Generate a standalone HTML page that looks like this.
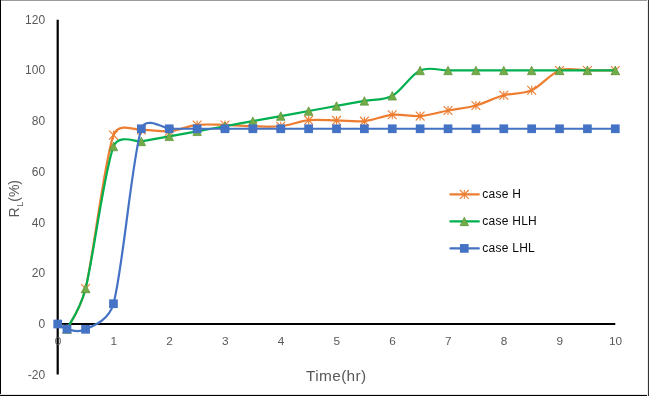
<!DOCTYPE html>
<html><head><meta charset="utf-8"><title>chart</title>
<style>
html,body{margin:0;padding:0;background:#fff;}
body{width:649px;height:396px;overflow:hidden;position:relative;font-family:"Liberation Sans",sans-serif;}
svg text{font-family:"Liberation Sans",sans-serif;}
.b{position:absolute;}
</style></head><body>
<div class="b" style="left:0;top:0;width:649px;height:1px;background:#9b9b9b"></div>
<div class="b" style="left:0;top:0;width:1px;height:396px;background:#000"></div>
<div class="b" style="left:0;top:394px;width:649px;height:1px;background:#e4e4e4"></div>
<div class="b" style="left:0;top:395px;width:649px;height:1px;background:#000"></div>
<div class="b" style="left:647px;top:0;width:1px;height:396px;background:#ececec"></div>
<div class="b" style="left:648px;top:0;width:1px;height:396px;background:#333"></div>
<svg width="649" height="396" viewBox="0 0 649 396" style="position:absolute;left:0;top:0">
<line x1="57.70" y1="19.8" x2="57.70" y2="374.6" stroke="#000" stroke-width="2.2"/>
<line x1="56.60" y1="324.00" x2="615.30" y2="324.00" stroke="#000" stroke-width="2.2"/>
<path d="M66.99,329.07 C69.07,324.53 80.38,310.20 85.58,288.50 C93.32,256.18 104.17,161.52 113.46,135.11 C118.16,121.74 136.64,130.36 141.34,130.03 C150.63,129.40 159.93,132.15 169.22,131.30 C178.51,130.46 187.81,126.02 197.10,124.96 C206.39,123.91 215.69,124.75 224.98,124.96 C234.27,125.17 243.57,126.02 252.86,126.23 C262.15,126.44 271.45,127.25 280.74,126.23 C290.03,125.22 299.33,121.12 308.62,120.15 C317.91,119.17 327.21,120.23 336.50,120.40 C345.79,120.57 355.09,122.09 364.38,121.16 C373.67,120.23 382.97,115.67 392.26,114.82 C401.55,113.98 410.85,116.81 420.14,116.09 C429.43,115.37 438.73,112.29 448.02,110.51 C457.31,108.74 466.61,107.98 475.90,105.44 C485.19,102.90 494.49,97.83 503.78,95.30 C513.07,92.76 522.37,94.37 531.66,90.23 C540.95,86.09 550.25,73.75 559.54,70.45 C568.83,67.15 578.13,70.45 587.42,70.45 C596.71,70.45 606.01,70.45 615.30,70.45" fill="none" stroke="#ED7D31" stroke-width="2.2" stroke-linecap="round" stroke-linejoin="round"/>
<path d="M62.59,324.67 L71.39,333.47 M62.59,333.47 L71.39,324.67 M66.99,324.67 L66.99,333.47" stroke="#ED7D31" stroke-width="1.1" fill="none"/>
<path d="M81.18,284.10 L89.98,292.90 M81.18,292.90 L89.98,284.10 M85.58,284.10 L85.58,292.90" stroke="#ED7D31" stroke-width="1.1" fill="none"/>
<path d="M109.06,130.71 L117.86,139.51 M109.06,139.51 L117.86,130.71 M113.46,130.71 L113.46,139.51" stroke="#ED7D31" stroke-width="1.1" fill="none"/>
<path d="M136.94,125.63 L145.74,134.43 M136.94,134.43 L145.74,125.63 M141.34,125.63 L141.34,134.43" stroke="#ED7D31" stroke-width="1.1" fill="none"/>
<path d="M164.82,126.90 L173.62,135.70 M164.82,135.70 L173.62,126.90 M169.22,126.90 L169.22,135.70" stroke="#ED7D31" stroke-width="1.1" fill="none"/>
<path d="M192.70,120.56 L201.50,129.36 M192.70,129.36 L201.50,120.56 M197.10,120.56 L197.10,129.36" stroke="#ED7D31" stroke-width="1.1" fill="none"/>
<path d="M220.58,120.56 L229.38,129.36 M220.58,129.36 L229.38,120.56 M224.98,120.56 L224.98,129.36" stroke="#ED7D31" stroke-width="1.1" fill="none"/>
<path d="M248.46,121.83 L257.26,130.63 M248.46,130.63 L257.26,121.83 M252.86,121.83 L252.86,130.63" stroke="#ED7D31" stroke-width="1.1" fill="none"/>
<path d="M276.34,121.83 L285.14,130.63 M276.34,130.63 L285.14,121.83 M280.74,121.83 L280.74,130.63" stroke="#ED7D31" stroke-width="1.1" fill="none"/>
<path d="M304.22,115.75 L313.02,124.55 M304.22,124.55 L313.02,115.75 M308.62,115.75 L308.62,124.55" stroke="#ED7D31" stroke-width="1.1" fill="none"/>
<path d="M332.10,116.00 L340.90,124.80 M332.10,124.80 L340.90,116.00 M336.50,116.00 L336.50,124.80" stroke="#ED7D31" stroke-width="1.1" fill="none"/>
<path d="M359.98,116.76 L368.78,125.56 M359.98,125.56 L368.78,116.76 M364.38,116.76 L364.38,125.56" stroke="#ED7D31" stroke-width="1.1" fill="none"/>
<path d="M387.86,110.42 L396.66,119.22 M387.86,119.22 L396.66,110.42 M392.26,110.42 L392.26,119.22" stroke="#ED7D31" stroke-width="1.1" fill="none"/>
<path d="M415.74,111.69 L424.54,120.49 M415.74,120.49 L424.54,111.69 M420.14,111.69 L420.14,120.49" stroke="#ED7D31" stroke-width="1.1" fill="none"/>
<path d="M443.62,106.11 L452.42,114.91 M443.62,114.91 L452.42,106.11 M448.02,106.11 L448.02,114.91" stroke="#ED7D31" stroke-width="1.1" fill="none"/>
<path d="M471.50,101.04 L480.30,109.84 M471.50,109.84 L480.30,101.04 M475.90,101.04 L475.90,109.84" stroke="#ED7D31" stroke-width="1.1" fill="none"/>
<path d="M499.38,90.90 L508.18,99.70 M499.38,99.70 L508.18,90.90 M503.78,90.90 L503.78,99.70" stroke="#ED7D31" stroke-width="1.1" fill="none"/>
<path d="M527.26,85.83 L536.06,94.63 M527.26,94.63 L536.06,85.83 M531.66,85.83 L531.66,94.63" stroke="#ED7D31" stroke-width="1.1" fill="none"/>
<path d="M555.14,66.05 L563.94,74.85 M555.14,74.85 L563.94,66.05 M559.54,66.05 L559.54,74.85" stroke="#ED7D31" stroke-width="1.1" fill="none"/>
<path d="M583.02,66.05 L591.82,74.85 M583.02,74.85 L591.82,66.05 M587.42,66.05 L587.42,74.85" stroke="#ED7D31" stroke-width="1.1" fill="none"/>
<path d="M610.90,66.05 L619.70,74.85 M610.90,74.85 L619.70,66.05 M615.30,66.05 L615.30,74.85" stroke="#ED7D31" stroke-width="1.1" fill="none"/>
<path d="M66.99,329.07 C69.19,324.27 80.08,310.13 85.58,288.50 C93.32,258.08 104.17,171.02 113.46,146.52 C118.48,133.27 136.32,142.36 141.34,141.44 C150.63,139.75 159.93,138.06 169.22,136.37 C178.51,134.68 187.81,132.99 197.10,131.30 C206.39,129.61 215.69,127.92 224.98,126.23 C234.27,124.54 243.57,122.85 252.86,121.16 C262.15,119.47 271.45,117.78 280.74,116.09 C290.03,114.40 299.33,112.71 308.62,111.02 C317.91,109.33 327.21,107.64 336.50,105.95 C345.79,104.26 355.09,102.57 364.38,100.88 C373.67,99.19 382.97,100.88 392.26,95.81 C401.55,90.73 410.85,74.68 420.14,70.45 C429.43,66.22 438.73,70.45 448.02,70.45 C457.31,70.45 466.61,70.45 475.90,70.45 C485.19,70.45 494.49,70.45 503.78,70.45 C513.07,70.45 522.37,70.45 531.66,70.45 C540.95,70.45 550.25,70.45 559.54,70.45 C568.83,70.45 578.13,70.45 587.42,70.45 C596.71,70.45 606.01,70.45 615.30,70.45" fill="none" stroke="#00B050" stroke-width="2.2" stroke-linecap="round" stroke-linejoin="round"/>
<path d="M66.99,324.82 L71.24,333.32 L62.74,333.32 Z" fill="#70AD47" stroke="#5A8F39" stroke-width="0.7"/>
<path d="M85.58,284.25 L89.83,292.75 L81.33,292.75 Z" fill="#70AD47" stroke="#5A8F39" stroke-width="0.7"/>
<path d="M113.46,142.27 L117.71,150.77 L109.21,150.77 Z" fill="#70AD47" stroke="#5A8F39" stroke-width="0.7"/>
<path d="M141.34,137.19 L145.59,145.69 L137.09,145.69 Z" fill="#70AD47" stroke="#5A8F39" stroke-width="0.7"/>
<path d="M169.22,132.12 L173.47,140.62 L164.97,140.62 Z" fill="#70AD47" stroke="#5A8F39" stroke-width="0.7"/>
<path d="M197.10,127.05 L201.35,135.55 L192.85,135.55 Z" fill="#70AD47" stroke="#5A8F39" stroke-width="0.7"/>
<path d="M224.98,121.98 L229.23,130.48 L220.73,130.48 Z" fill="#70AD47" stroke="#5A8F39" stroke-width="0.7"/>
<path d="M252.86,116.91 L257.11,125.41 L248.61,125.41 Z" fill="#70AD47" stroke="#5A8F39" stroke-width="0.7"/>
<path d="M280.74,111.84 L284.99,120.34 L276.49,120.34 Z" fill="#70AD47" stroke="#5A8F39" stroke-width="0.7"/>
<path d="M308.62,106.77 L312.87,115.27 L304.37,115.27 Z" fill="#70AD47" stroke="#5A8F39" stroke-width="0.7"/>
<path d="M336.50,101.70 L340.75,110.20 L332.25,110.20 Z" fill="#70AD47" stroke="#5A8F39" stroke-width="0.7"/>
<path d="M364.38,96.63 L368.63,105.13 L360.13,105.13 Z" fill="#70AD47" stroke="#5A8F39" stroke-width="0.7"/>
<path d="M392.26,91.56 L396.51,100.06 L388.01,100.06 Z" fill="#70AD47" stroke="#5A8F39" stroke-width="0.7"/>
<path d="M420.14,66.20 L424.39,74.70 L415.89,74.70 Z" fill="#70AD47" stroke="#5A8F39" stroke-width="0.7"/>
<path d="M448.02,66.20 L452.27,74.70 L443.77,74.70 Z" fill="#70AD47" stroke="#5A8F39" stroke-width="0.7"/>
<path d="M475.90,66.20 L480.15,74.70 L471.65,74.70 Z" fill="#70AD47" stroke="#5A8F39" stroke-width="0.7"/>
<path d="M503.78,66.20 L508.03,74.70 L499.53,74.70 Z" fill="#70AD47" stroke="#5A8F39" stroke-width="0.7"/>
<path d="M531.66,66.20 L535.91,74.70 L527.41,74.70 Z" fill="#70AD47" stroke="#5A8F39" stroke-width="0.7"/>
<path d="M559.54,66.20 L563.79,74.70 L555.29,74.70 Z" fill="#70AD47" stroke="#5A8F39" stroke-width="0.7"/>
<path d="M587.42,66.20 L591.67,74.70 L583.17,74.70 Z" fill="#70AD47" stroke="#5A8F39" stroke-width="0.7"/>
<path d="M615.30,66.20 L619.55,74.70 L611.05,74.70 Z" fill="#70AD47" stroke="#5A8F39" stroke-width="0.7"/>
<path d="M57.70,324.00 C60.80,325.69 62.35,328.18 66.99,329.07 C71.64,329.96 77.84,333.55 85.58,329.32 C89.81,327.02 108.39,321.95 113.46,303.72 C122.75,270.29 132.05,157.92 141.34,128.77 C145.57,115.48 164.99,128.77 169.22,128.77 C178.51,128.77 187.81,128.77 197.10,128.77 C206.39,128.77 215.69,128.77 224.98,128.77 C234.27,128.77 243.57,128.77 252.86,128.77 C262.15,128.77 271.45,128.77 280.74,128.77 C290.03,128.77 299.33,128.77 308.62,128.77 C317.91,128.77 327.21,128.77 336.50,128.77 C345.79,128.77 355.09,128.77 364.38,128.77 C373.67,128.77 382.97,128.77 392.26,128.77 C401.55,128.77 410.85,128.77 420.14,128.77 C429.43,128.77 438.73,128.77 448.02,128.77 C457.31,128.77 466.61,128.77 475.90,128.77 C485.19,128.77 494.49,128.77 503.78,128.77 C513.07,128.77 522.37,128.77 531.66,128.77 C540.95,128.77 550.25,128.77 559.54,128.77 C568.83,128.77 578.13,128.77 587.42,128.77 C596.71,128.77 606.01,128.77 615.30,128.77" fill="none" stroke="#4472C4" stroke-width="2.2" stroke-linecap="round" stroke-linejoin="round"/>
<rect x="53.35" y="319.65" width="8.70" height="8.70" fill="#4472C4"/>
<rect x="62.64" y="324.72" width="8.70" height="8.70" fill="#4472C4"/>
<rect x="81.23" y="324.97" width="8.70" height="8.70" fill="#4472C4"/>
<rect x="109.11" y="299.37" width="8.70" height="8.70" fill="#4472C4"/>
<rect x="136.99" y="124.42" width="8.70" height="8.70" fill="#4472C4"/>
<rect x="164.87" y="124.42" width="8.70" height="8.70" fill="#4472C4"/>
<rect x="192.75" y="124.42" width="8.70" height="8.70" fill="#4472C4"/>
<rect x="220.63" y="124.42" width="8.70" height="8.70" fill="#4472C4"/>
<rect x="248.51" y="124.42" width="8.70" height="8.70" fill="#4472C4"/>
<rect x="276.39" y="124.42" width="8.70" height="8.70" fill="#4472C4"/>
<rect x="304.27" y="124.42" width="8.70" height="8.70" fill="#4472C4"/>
<rect x="332.15" y="124.42" width="8.70" height="8.70" fill="#4472C4"/>
<rect x="360.03" y="124.42" width="8.70" height="8.70" fill="#4472C4"/>
<rect x="387.91" y="124.42" width="8.70" height="8.70" fill="#4472C4"/>
<rect x="415.79" y="124.42" width="8.70" height="8.70" fill="#4472C4"/>
<rect x="443.67" y="124.42" width="8.70" height="8.70" fill="#4472C4"/>
<rect x="471.55" y="124.42" width="8.70" height="8.70" fill="#4472C4"/>
<rect x="499.43" y="124.42" width="8.70" height="8.70" fill="#4472C4"/>
<rect x="527.31" y="124.42" width="8.70" height="8.70" fill="#4472C4"/>
<rect x="555.19" y="124.42" width="8.70" height="8.70" fill="#4472C4"/>
<rect x="583.07" y="124.42" width="8.70" height="8.70" fill="#4472C4"/>
<rect x="610.95" y="124.42" width="8.70" height="8.70" fill="#4472C4"/>
<line x1="450.4" y1="194.40" x2="478.8" y2="194.40" stroke="#ED7D31" stroke-width="2.2" stroke-linecap="round"/>
<path d="M459.90,190.00 L468.70,198.80 M459.90,198.80 L468.70,190.00 M464.30,190.00 L464.30,198.80" stroke="#ED7D31" stroke-width="1.1" fill="none"/>
<line x1="450.4" y1="221.40" x2="478.8" y2="221.40" stroke="#00B050" stroke-width="2.2" stroke-linecap="round"/>
<path d="M464.30,217.15 L468.55,225.65 L460.05,225.65 Z" fill="#70AD47" stroke="#5A8F39" stroke-width="0.7"/>
<line x1="450.4" y1="248.40" x2="478.8" y2="248.40" stroke="#4472C4" stroke-width="2.2" stroke-linecap="round"/>
<rect x="459.95" y="244.05" width="8.70" height="8.70" fill="#4472C4"/>
<text x="45.1" y="378.71" text-anchor="end" font-size="12" fill="#595959">-20</text>
<text x="45.1" y="328.00" text-anchor="end" font-size="12" fill="#595959">0</text>
<text x="45.1" y="277.29" text-anchor="end" font-size="12" fill="#595959">20</text>
<text x="45.1" y="226.58" text-anchor="end" font-size="12" fill="#595959">40</text>
<text x="45.1" y="175.87" text-anchor="end" font-size="12" fill="#595959">60</text>
<text x="45.1" y="125.16" text-anchor="end" font-size="12" fill="#595959">80</text>
<text x="45.1" y="74.45" text-anchor="end" font-size="12" fill="#595959">100</text>
<text x="45.1" y="23.74" text-anchor="end" font-size="12" fill="#595959">120</text>
<text x="58.00" y="345.3" text-anchor="middle" font-size="11.8" fill="#595959">0</text>
<text x="113.76" y="345.3" text-anchor="middle" font-size="11.8" fill="#595959">1</text>
<text x="169.52" y="345.3" text-anchor="middle" font-size="11.8" fill="#595959">2</text>
<text x="225.28" y="345.3" text-anchor="middle" font-size="11.8" fill="#595959">3</text>
<text x="281.04" y="345.3" text-anchor="middle" font-size="11.8" fill="#595959">4</text>
<text x="336.80" y="345.3" text-anchor="middle" font-size="11.8" fill="#595959">5</text>
<text x="392.56" y="345.3" text-anchor="middle" font-size="11.8" fill="#595959">6</text>
<text x="448.32" y="345.3" text-anchor="middle" font-size="11.8" fill="#595959">7</text>
<text x="504.08" y="345.3" text-anchor="middle" font-size="11.8" fill="#595959">8</text>
<text x="559.84" y="345.3" text-anchor="middle" font-size="11.8" fill="#595959">9</text>
<text x="615.60" y="345.3" text-anchor="middle" font-size="11.8" fill="#595959">10</text>
<text x="482.3" y="198.40" font-size="12" letter-spacing="0.25" fill="#0a0a0a">case H</text>
<text x="482.3" y="225.40" font-size="12" letter-spacing="0.25" fill="#0a0a0a">case HLH</text>
<text x="482.3" y="252.40" font-size="12" letter-spacing="0.25" fill="#0a0a0a">case LHL</text>
<text x="336.3" y="380.7" text-anchor="middle" font-size="15.4" letter-spacing="0.35" fill="#595959">Time(hr)</text>
<text transform="translate(19.2,217.5) rotate(-90)" font-size="14" fill="#595959">R<tspan font-size="9" dy="4.2" dx="0.7">L</tspan><tspan dy="-4.2" dx="-0.1">(%)</tspan></text>
</svg>
</body></html>
